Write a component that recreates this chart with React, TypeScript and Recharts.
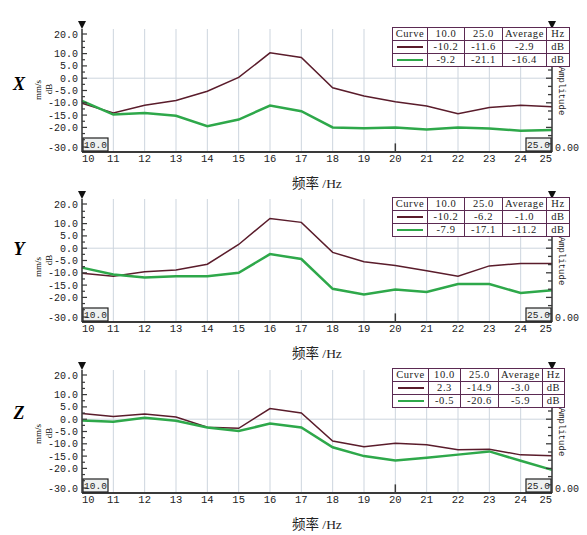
import React from "react";
import {
  LineChart,
  Line,
  XAxis,
  YAxis,
  CartesianGrid,
  ReferenceLine,
  ReferenceDot,
} from "recharts";

// frequency (Hz) for each point
const freqs = [10, 11, 12, 13, 14, 15, 16, 17, 18, 19, 20, 21, 22, 23, 24, 25];

const xBrown = [-10.2, -14.1, -11.0, -9.1, -5.3, 0.3, 10.3, 8.4, -3.9, -7.2, -9.6, -11.3, -14.4, -11.9, -11.0, -11.6];
const xGreen = [-9.2, -14.8, -14.1, -15.3, -19.5, -16.8, -11.1, -13.4, -20.0, -20.3, -20.0, -20.9, -20.0, -20.4, -21.4, -21.1];
const yBrown = [-10.2, -11.4, -9.6, -8.9, -6.5, 1.5, 12.1, 10.5, -1.7, -5.5, -7.0, -9.2, -11.4, -7.2, -6.2, -6.2];
const yGreen = [-7.9, -10.7, -11.9, -11.4, -11.4, -10.0, -2.4, -4.4, -16.5, -18.8, -16.8, -17.8, -14.6, -14.6, -18.2, -17.1];
const zBrown = [2.3, 1.1, 2.1, 0.9, -3.3, -3.7, 4.3, 2.5, -8.9, -11.2, -9.8, -10.4, -12.4, -12.2, -14.5, -14.9];
const zGreen = [-0.5, -1.0, 0.6, -0.6, -3.4, -4.8, -1.8, -3.4, -11.4, -15.0, -16.8, -15.7, -14.4, -13.1, -16.9, -20.6];

// table rows: value at 10.0, value at 25.0, average
const xTableBrown = ["-10.2", "-11.6", "-2.9"];
const xTableGreen = ["-9.2", "-21.1", "-16.4"];
const yTableBrown = ["-10.2", "-6.2", "-1.0"];
const yTableGreen = ["-7.9", "-17.1", "-11.2"];
const zTableBrown = ["2.3", "-14.9", "-3.0"];
const zTableGreen = ["-0.5", "-20.6", "-5.9"];

const DOMAIN = [-30, 20];
const leftTicks = [20, 15, 12.5, 10, 7.5, 5, 2.5, 0, -2.5, -5, -7.5, -10, -12.5, -15, -17.5, -20, -22.5, -25, -30];
const leftLabels = [20, 10, 5, 0, -5, -10, -15, -20, -30];
// right (amplitude) axis: only its zero is labelled; 15 even divisions marked up the side
const rightTicks = [-30];
const RIGHT_DIVISIONS = 15;
const PLOT_HEIGHT = 123;

const BROWN = "#5a1c2b";
const GREEN = "#2ea84a";
const GRID = "#cdd5de";
const AXIS = "#3a3a3a";
const BORDER = "#5b2a52";
const MONO = "'Liberation Mono', 'DejaVu Sans Mono', monospace";
const SERIF = "'Liberation Serif', 'Times New Roman', 'Noto Sans CJK SC', serif";

const LeftTick = (props: any) => {
  const { x, y, payload } = props;
  const v = payload.value;
  const labelled = leftLabels.includes(v);
  let yy = y;
  if (v === 20) yy = y + 5;
  if (v === -30) yy = y - 5;
  return (
    <g>
      <line x1={x} y1={yy} x2={x + (labelled ? 5 : 3)} y2={yy} stroke={AXIS} strokeWidth={1.2} />
      {labelled && (
        <text x={x - 4} y={yy} dy={3.5} textAnchor="end" fontSize={10} fontFamily={MONO} fill="#222">
          {v.toFixed(1)}
        </text>
      )}
    </g>
  );
};

const RightTick = (props: any) => {
  const { x, y } = props;
  const step = PLOT_HEIGHT / RIGHT_DIVISIONS;
  const marks = [];
  for (let k = 1; k < RIGHT_DIVISIONS; k++) {
    const len = k % 3 === 0 ? 6 : 4;
    marks.push(<line key={k} x1={x} y1={y - k * step} x2={x - len} y2={y - k * step} stroke={AXIS} strokeWidth={1.3} />);
  }
  return (
    <g>
      {marks}
      <text x={x + 3} y={y - 5} dy={3.5} textAnchor="start" fontSize={10} fontFamily={MONO} fill="#222">
        0.00
      </text>
    </g>
  );
};

const BottomTick = (props: any) => {
  const { x, y, payload } = props;
  const v = payload.value;
  let anchor = "middle";
  if (v === 10) anchor = "start";
  if (v === 25) anchor = "end";
  return (
    <text x={x} y={y + 10} textAnchor={anchor} fontSize={10.5} fontFamily={MONO} fill="#222">
      {v}
    </text>
  );
};

const Triangle = (props: any) => {
  const { cx, cy } = props;
  return <polygon points={`${cx - 4},${cy - 8} ${cx + 4},${cy - 8} ${cx},${cy}`} fill="#111" />;
};

const CursorBox = (side: "left" | "right", label: string) => (props: any) => {
  const { cx, cy } = props;
  const w = 25;
  const x0 = side === "left" ? cx + 1 : cx - w - 1;
  return (
    <g>
      <rect x={x0} y={cy - 14} width={w} height={13} fill="#eef1f1" stroke="#222" strokeWidth={1.2} />
      <text x={x0 + w / 2} y={cy - 4} textAnchor="middle" fontSize={9.5} fontFamily={MONO} fill="#222">
        {label}
      </text>
    </g>
  );
};

type PanelProps = {
  letter: string;
  brown: number[];
  green: number[];
  tableBrown: string[];
  tableGreen: string[];
  top: number;
  letterY: number;
  unitY: number;
  dbY: number;
  colWidths: number[];
};

const cell = (w: number): React.CSSProperties => ({
  width: w,
  border: `1.5px solid ${BORDER}`,
  padding: 0,
  height: 12,
  textAlign: "center",
  fontFamily: SERIF,
  fontSize: 10.5,
  color: "#222",
  lineHeight: "12px",
  letterSpacing: 0.6,
});

const Panel = ({ letter, brown, green, tableBrown, tableGreen, top, letterY, unitY, dbY, colWidths }: PanelProps) => {
  const data = freqs.map((f, i) => ({ f, brown: brown[i], green: green[i] }));
  return (
    <div style={{ position: "absolute", left: 0, top, width: 587, height: 200 }}>
      <LineChart width={587} height={172} data={data} margin={{ top: 29, right: 0, bottom: 0, left: 0 }}>
        <CartesianGrid horizontal={false} stroke={GRID} yAxisId="left" />
        <ReferenceLine y={0} yAxisId="left" stroke={GRID} />
        <XAxis
          dataKey="f"
          type="number"
          domain={[10, 25]}
          ticks={freqs}
          interval={0}
          height={20}
          tickSize={0}
          tickMargin={0}
          tickLine={false}
          tick={<BottomTick />}
          axisLine={{ stroke: AXIS, strokeWidth: 2 }}
        />
        <XAxis
          xAxisId="top"
          dataKey="f"
          type="number"
          domain={[10, 25]}
          orientation="top"
          height={0}
          tick={false}
          tickLine={false}
          axisLine={{ stroke: AXIS, strokeWidth: 2 }}
        />
        <YAxis
          yAxisId="left"
          type="number"
          domain={DOMAIN}
          allowDataOverflow
          ticks={leftTicks}
          interval={0}
          width={82}
          tickSize={0}
          tickMargin={0}
          tickLine={false}
          tick={<LeftTick />}
          axisLine={{ stroke: AXIS, strokeWidth: 1.5 }}
        />
        <YAxis
          yAxisId="right"
          orientation="right"
          type="number"
          domain={DOMAIN}
          allowDataOverflow
          ticks={rightTicks}
          interval={0}
          width={35}
          tickSize={0}
          tickMargin={0}
          tickLine={false}
          tick={<RightTick />}
          axisLine={{ stroke: AXIS, strokeWidth: 1.5 }}
        />
        <ReferenceLine
          yAxisId="left"
          segment={[{ x: 20, y: -30 }, { x: 20, y: -26.5 }]}
          stroke={AXIS}
          strokeWidth={1.5}
        />
        <Line yAxisId="left" type="linear" dataKey="brown" stroke={BROWN} strokeWidth={1.5} dot={false} isAnimationActive={false} />
        <Line yAxisId="right" type="linear" dataKey="green" stroke={GREEN} strokeWidth={2.5} dot={false} isAnimationActive={false} />
        <ReferenceDot yAxisId="left" x={10} y={20} ifOverflow="visible" shape={Triangle} />
        <ReferenceDot yAxisId="left" x={25} y={20} ifOverflow="visible" shape={Triangle} />
        <ReferenceDot yAxisId="left" x={10} y={-30} ifOverflow="visible" shape={CursorBox("left", "10.0")} />
        <ReferenceDot yAxisId="left" x={25} y={-30} ifOverflow="visible" shape={CursorBox("right", "25.0")} />
      </LineChart>

      <div
        style={{
          position: "absolute",
          left: 19,
          top: letterY,
          transform: "translate(-50%, -50%)",
          fontFamily: SERIF,
          fontWeight: "bold",
          fontStyle: "italic",
          fontSize: 18,
        }}
      >
        {letter}
      </div>
      <div
        style={{
          position: "absolute",
          left: 38,
          top: unitY,
          transform: "translate(-50%, -50%) rotate(-90deg)",
          fontFamily: SERIF,
          fontSize: 9,
          whiteSpace: "nowrap",
        }}
      >
        mm/s
      </div>
      <div
        style={{
          position: "absolute",
          left: 49,
          top: dbY,
          transform: "translate(-50%, -50%) rotate(-90deg)",
          fontFamily: SERIF,
          fontSize: 9,
          whiteSpace: "nowrap",
        }}
      >
        dB
      </div>
      <div
        style={{
          position: "absolute",
          left: 561,
          top: 91,
          transform: "translate(-50%, -50%) rotate(90deg)",
          fontFamily: MONO,
          fontSize: 9,
          color: "#222",
          whiteSpace: "nowrap",
        }}
      >
        Amplitude
      </div>
      <div
        style={{
          position: "absolute",
          left: 292,
          top: 172,
          fontFamily: SERIF,
          fontSize: 13.5,
          color: "#222",
          whiteSpace: "nowrap",
        }}
      >
        频率 /Hz
      </div>

      <table
        style={{
          position: "absolute",
          left: 392,
          top: 27,
          borderCollapse: "collapse",
          background: "#fff",
          tableLayout: "fixed",
        }}
      >
        <tbody>
          <tr>
            <td style={cell(colWidths[0])}>Curve</td>
            <td style={cell(colWidths[1])}>10.0</td>
            <td style={cell(colWidths[2])}>25.0</td>
            <td style={cell(colWidths[3])}>Average</td>
            <td style={cell(colWidths[4])}>Hz</td>
          </tr>
          <tr>
            <td style={cell(colWidths[0])}>
              <div style={{ width: 26, height: 1.5, background: BROWN, margin: "0 auto" }} />
            </td>
            {tableBrown.map((t, i) => (
              <td key={i} style={cell(colWidths[i + 1])}>{t}</td>
            ))}
            <td style={cell(colWidths[4])}>dB</td>
          </tr>
          <tr>
            <td style={cell(colWidths[0])}>
              <div style={{ width: 26, height: 2.5, background: GREEN, margin: "0 auto" }} />
            </td>
            {tableGreen.map((t, i) => (
              <td key={i} style={cell(colWidths[i + 1])}>{t}</td>
            ))}
            <td style={cell(colWidths[4])}>dB</td>
          </tr>
        </tbody>
      </table>
    </div>
  );
};

const App = () => {
  return (
    <div style={{ position: "absolute", left: 0, top: 0, width: 587, height: 535, background: "#fff" }}>
      <Panel letter="X" brown={xBrown} green={xGreen} tableBrown={xTableBrown} tableGreen={xTableGreen}
        top={0} letterY={84} unitY={90} dbY={89} colWidths={[34, 36, 37, 43, 22]} />
      <Panel letter="Y" brown={yBrown} green={yGreen} tableBrown={yTableBrown} tableGreen={yTableGreen}
        top={170} letterY={79} unitY={97} dbY={90} colWidths={[34, 36, 37, 43, 22]} />
      <Panel letter="Z" brown={zBrown} green={zGreen} tableBrown={zTableBrown} tableGreen={zTableGreen}
        top={341} letterY={72} unitY={93} dbY={92} colWidths={[35, 31, 37, 43, 21]} />
    </div>
  );
};

export default App;
